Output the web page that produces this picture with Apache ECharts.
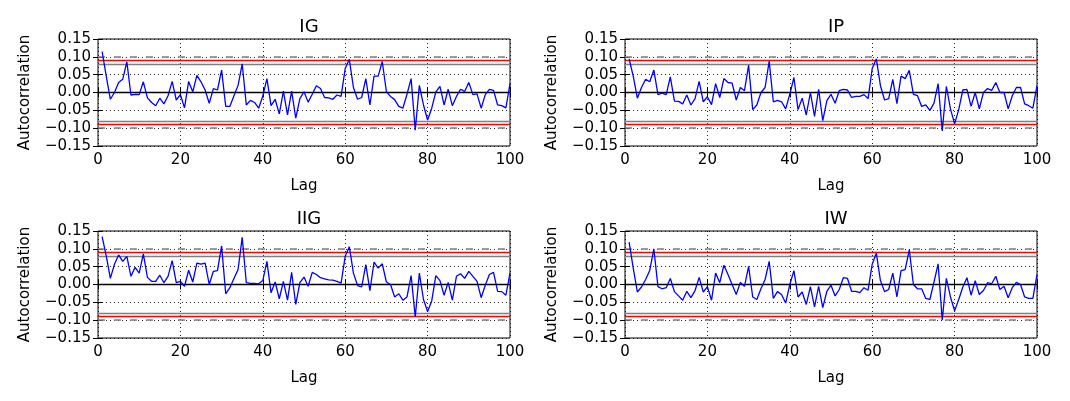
<!DOCTYPE html>
<html>
<head>
<meta charset="utf-8">
<script src="https://cdn.jsdelivr.net/npm/echarts@6/dist/echarts.min.js"></script>
<style>
  html, body { margin: 0; padding: 0; background: #fff; }
  #chart { width: 1070px; height: 401px; }
</style>
</head>
<body>
<div id="chart"></div>
<script>
// autocorrelation, lag 1..100
var panelNames = ['IG', 'IP', 'IIG', 'IW'];

var acfIG = [0.115, 0.046, -0.019, 0.000, 0.028, 0.037, 0.086, -0.007, -0.005, -0.006,
  0.030, -0.015, -0.028, -0.037, -0.016, -0.032, -0.009, 0.031, -0.021, -0.006,
  -0.043, 0.031, 0.002, 0.048, 0.030, 0.007, -0.030, 0.011, 0.007, 0.063,
  -0.039, -0.039, -0.009, 0.020, 0.080, -0.035, -0.022, -0.028, -0.044, -0.010,
  0.039, -0.037, -0.019, -0.060, 0.004, -0.063, 0.004, -0.072, -0.017, 0.002,
  -0.027, -0.005, 0.019, 0.011, -0.014, -0.015, -0.019, -0.007, -0.011, 0.067,
  0.093, 0.014, -0.019, -0.014, 0.039, -0.035, 0.046, 0.046, 0.087, 0.002,
  -0.011, -0.020, -0.039, -0.044, -0.005, 0.039, -0.106, 0.020, -0.035, -0.077,
  -0.044, 0.002, 0.017, -0.035, 0.009, -0.037, -0.011, 0.009, 0.003, 0.028,
  -0.006, -0.004, -0.044, -0.006, 0.009, 0.006, -0.035, -0.037, -0.043, 0.025];

var acfIP = [0.094, 0.046, -0.016, 0.014, 0.037, 0.030, 0.063, -0.006, -0.002, -0.006,
  0.044, -0.024, -0.025, -0.032, -0.007, -0.035, -0.017, 0.031, -0.026, -0.012,
  -0.034, 0.025, -0.014, 0.039, 0.028, 0.026, -0.021, 0.014, 0.005, 0.077,
  -0.048, -0.035, 0.000, 0.014, 0.088, -0.026, -0.022, -0.026, -0.046, -0.005,
  0.042, -0.048, -0.016, -0.063, 0.000, -0.067, 0.009, -0.079, -0.023, -0.005,
  -0.030, 0.005, 0.009, 0.007, -0.014, -0.011, -0.011, -0.006, -0.017, 0.067,
  0.094, 0.019, -0.021, -0.017, 0.037, -0.031, 0.046, 0.039, 0.062, -0.005,
  -0.009, -0.039, -0.035, -0.050, -0.030, 0.025, -0.108, 0.017, -0.046, -0.088,
  -0.048, 0.007, 0.009, -0.039, 0.000, -0.046, 0.000, 0.011, 0.006, 0.028,
  0.000, 0.000, -0.046, -0.009, 0.014, 0.014, -0.032, -0.037, -0.044, 0.019];

var acfIIG = [0.134, 0.080, 0.017, 0.057, 0.083, 0.065, 0.079, 0.023, 0.048, 0.032,
  0.086, 0.020, 0.009, 0.009, 0.026, 0.005, 0.023, 0.067, 0.005, 0.009,
  -0.005, 0.040, 0.007, 0.060, 0.057, 0.060, 0.000, 0.037, 0.039, 0.108,
  -0.026, -0.009, 0.017, 0.042, 0.132, 0.005, 0.003, 0.003, 0.002, 0.011,
  0.065, -0.023, 0.007, -0.040, 0.009, -0.044, 0.034, -0.056, 0.005, 0.021,
  -0.005, 0.034, 0.028, 0.019, 0.016, 0.013, 0.012, 0.009, 0.004, 0.079,
  0.106, 0.032, -0.003, -0.007, 0.056, -0.017, 0.063, 0.046, 0.058, 0.007,
  0.000, -0.035, -0.026, -0.044, -0.035, 0.025, -0.091, 0.032, -0.042, -0.076,
  -0.046, 0.025, 0.011, -0.030, 0.006, -0.044, 0.023, 0.030, 0.017, 0.037,
  0.023, 0.009, -0.037, -0.002, 0.028, 0.034, -0.019, -0.020, -0.030, 0.032];

var acfIW = [0.119, 0.046, -0.021, -0.007, 0.014, 0.039, 0.100, -0.006, -0.012, -0.009,
  0.017, -0.020, -0.032, -0.044, -0.019, -0.037, -0.017, 0.020, -0.021, -0.006,
  -0.044, 0.032, 0.005, 0.054, 0.028, 0.000, -0.028, 0.006, -0.005, 0.051,
  -0.035, -0.042, -0.012, 0.014, 0.065, -0.039, -0.020, -0.028, -0.052, 0.000,
  0.039, -0.035, -0.021, -0.056, -0.006, -0.063, -0.005, -0.065, -0.019, -0.002,
  -0.032, -0.014, 0.019, 0.017, -0.019, -0.019, -0.023, -0.009, -0.016, 0.057,
  0.088, 0.011, -0.020, -0.014, 0.032, -0.035, 0.039, 0.042, 0.097, 0.000,
  -0.012, -0.012, -0.039, -0.042, 0.007, 0.058, -0.100, 0.017, -0.035, -0.074,
  -0.042, -0.007, 0.019, -0.030, 0.011, -0.028, -0.017, 0.005, 0.002, 0.023,
  -0.014, -0.005, -0.037, -0.009, 0.006, 0.000, -0.035, -0.039, -0.039, 0.028];

// confidence bands (grey solid / grey dashed) and the red limit
var band95 = 0.077;
var band99 = 0.1005;
var redLimit = 0.094;

var xTicks = [0, 100, 20];        // min, max, interval
var yTicks = [-0.15, 0.15, 0.05];

var allAcf = [acfIG, acfIP, acfIIG, acfIW];

// plot boxes in pixels
var boxes = [
  { left: 98, top: 39 }, { left: 625, top: 39 },
  { left: 98, top: 231 }, { left: 625, top: 231 }
];
var boxW = 412, boxH = 107;

var font = 'DejaVu Sans';
var tickStyle = { inside: true, length: 5, lineStyle: { color: '#000', width: 1 } };
var dotGrid = { show: true, lineStyle: { color: '#000', width: 1, type: [1, 3], opacity: 0.85 } };

function fmtY(v) {
  if (Math.abs(v) < 1e-9) return '0.00';
  return (v < 0 ? '\u2212' : '') + Math.abs(v).toFixed(2);
}

var grids = [], xAxes = [], yAxes = [], series = [], titles = [];

for (var i = 0; i < 4; i++) {
  var b = boxes[i];
  grids.push({ left: b.left, top: b.top, width: boxW, height: boxH, show: true,
    borderColor: '#000', borderWidth: 1, backgroundColor: 'transparent' });

  titles.push({ text: panelNames[i], left: b.left + boxW / 2, top: b.top - 26, textAlign: 'center',
    textStyle: { fontFamily: font, fontSize: 18, fontWeight: 'normal', color: '#000' } });

  // bottom / top x axes
  xAxes.push({ gridIndex: i, type: 'value', min: xTicks[0], max: xTicks[1], interval: xTicks[2],
    axisLine: { show: false }, axisTick: tickStyle, splitLine: dotGrid,
    axisLabel: { fontFamily: font, fontSize: 15, color: '#000', margin: 7 },
    name: 'Lag', nameLocation: 'middle', nameGap: 33,
    nameTextStyle: { fontFamily: font, fontSize: 15, color: '#000' } });
  xAxes.push({ gridIndex: i, type: 'value', position: 'top', min: xTicks[0], max: xTicks[1], interval: xTicks[2],
    axisLine: { show: false }, axisTick: tickStyle, axisLabel: { show: false }, splitLine: { show: false } });

  // left / right y axes
  yAxes.push({ gridIndex: i, type: 'value', min: yTicks[0], max: yTicks[1], interval: yTicks[2],
    axisLine: { show: false }, axisTick: tickStyle, splitLine: dotGrid,
    axisLabel: { fontFamily: font, fontSize: 15, color: '#000', margin: 7, formatter: fmtY },
    name: 'Autocorrelation', nameLocation: 'middle', nameGap: 65,
    nameTextStyle: { fontFamily: font, fontSize: 15, color: '#000' } });
  yAxes.push({ gridIndex: i, type: 'value', position: 'right', min: yTicks[0], max: yTicks[1], interval: yTicks[2],
    axisLine: { show: false }, axisTick: tickStyle, axisLabel: { show: false }, splitLine: { show: false } });

  var pts = allAcf[i].map(function (v, k) { return [k + 1, v]; });

  series.push({
    type: 'line', xAxisIndex: i * 2, yAxisIndex: i * 2, data: pts, z: 4,
    showSymbol: false, symbol: 'none', clip: true, animation: false,
    lineStyle: { color: '#0000ff', width: 1.3 },
    markLine: {
      silent: true, z: 1, symbol: ['none', 'none'], animation: false, label: { show: false },
      data: [
        { yAxis: band99, lineStyle: { color: '#808080', type: [7, 9], width: 1.5 } },
        { yAxis: -band99, lineStyle: { color: '#808080', type: [7, 9], width: 1.5 } },
        { yAxis: band95, lineStyle: { color: '#808080', type: 'solid', width: 1.3 } },
        { yAxis: -band95, lineStyle: { color: '#808080', type: 'solid', width: 1.3 } },
        { yAxis: 0, lineStyle: { color: '#000', type: 'solid', width: 1.3 } },
        { yAxis: redLimit, lineStyle: { color: '#ff0000', type: 'solid', width: 1.3 } },
        { yAxis: -redLimit, lineStyle: { color: '#ff0000', type: 'solid', width: 1.3 } }
      ]
    }
  });
}

var myChart = echarts.init(document.getElementById('chart'), null, { renderer: 'canvas' });
myChart.setOption({
  animation: false,
  backgroundColor: '#fff',
  title: titles,
  grid: grids,
  xAxis: xAxes,
  yAxis: yAxes,
  series: series
});
</script>
</body>
</html>
